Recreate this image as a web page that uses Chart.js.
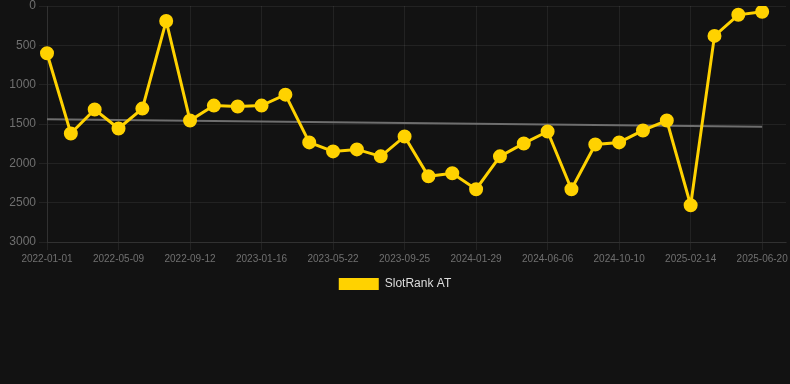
<!DOCTYPE html>
<html>
<head>
<meta charset="utf-8">
<script src="https://cdn.jsdelivr.net/npm/chart.js@4"></script>
<style>
  html, body { margin: 0; padding: 0; background: #121212; }
  #wrap { position: relative; width: 790px; height: 300px; }
</style>
</head>
<body>
<div id="wrap"><canvas id="chart"></canvas></div>
<script>
  var dates = [
    "2022-01-01", "2022-02-12", "2022-03-26", "2022-05-09", "2022-06-20", "2022-08-01",
    "2022-09-12", "2022-10-24", "2022-12-05", "2023-01-16", "2023-02-27", "2023-04-10",
    "2023-05-22", "2023-07-03", "2023-08-14", "2023-09-25", "2023-11-06", "2023-12-18",
    "2024-01-29", "2024-03-11", "2024-04-22", "2024-06-06", "2024-07-18", "2024-08-29",
    "2024-10-10", "2024-11-21", "2025-01-02", "2025-02-14", "2025-03-28", "2025-05-09",
    "2025-06-20", "2025-08-01"
  ];

  var rankValues = [
    600, 1620, 1316, 1557, 1304, 190, 1456, 1266, 1278, 1266, 1127,
    1734, 1848, 1823, 1911, 1658, 2165, 2127, 2329, 1911, 1747, 1595,
    2329, 1760, 1734, 1582, 1456, 2532, 380, 112, 74, null
  ];

  var trendStart = 1440;
  var trendEnd = 1535;

  var trendValues = dates.map(function (d, i) {
    if (i === 0) return trendStart;
    if (i === 30) return trendEnd;
    return null;
  });

  var tickColor = '#707070';
  var gridColor = 'rgba(255,255,255,0.07)';
  var fontFamily = 'Arial, "Liberation Sans", sans-serif';

  new Chart(document.getElementById('chart'), {
    type: 'line',
    data: {
      labels: dates,
      datasets: [
        {
          label: 'SlotRank AT',
          data: rankValues,
          borderColor: '#FFD200',
          backgroundColor: '#FFD200',
          borderWidth: 3,
          pointRadius: 5.5,
          pointHoverRadius: 6,
          tension: 0
        },
        {
          label: 'Trend',
          data: trendValues,
          borderColor: '#6e6e6e',
          backgroundColor: '#6e6e6e',
          borderWidth: 2,
          pointRadius: 0,
          spanGaps: true,
          tension: 0
        }
      ]
    },
    options: {
      responsive: true,
      maintainAspectRatio: false,
      animation: false,
      layout: { padding: 0, autoPadding: false },
      plugins: {
        legend: {
          position: 'bottom',
          labels: {
            color: '#dddddd',
            font: { family: fontFamily, size: 12 },
            boxWidth: 40,
            boxHeight: 12,
            filter: function (item) { return item.datasetIndex === 0; },
            generateLabels: function (chart) {
              var items = Chart.defaults.plugins.legend.labels.generateLabels(chart);
              items.forEach(function (it) { it.lineWidth = 0; });
              return items;
            }
          }
        },
        tooltip: { enabled: false }
      },
      scales: {
        x: {
          afterFit: function (scale) { scale.paddingRight = 4; },
          grid: {
            color: function (ctx) {
              return ctx.index % 3 === 0 ? gridColor : 'rgba(0,0,0,0)';
            },
            tickLength: 8
          },
          border: { color: gridColor },
          ticks: {
            color: tickColor,
            maxRotation: 0,
            autoSkip: false,
            callback: function (v, i) {
              return i % 3 === 0 ? this.getLabelForValue(v) : '';
            },
            font: { family: fontFamily, size: 10 }
          }
        },
        y: {
          reverse: true,
          min: 0,
          max: 3000,
          afterFit: function (scale) {
            scale.width = 47;
            scale.paddingTop = 6;
          },
          grid: { color: gridColor, tickLength: 8 },
          border: { color: gridColor },
          ticks: {
            stepSize: 500,
            color: tickColor,
            callback: function (v) { return String(v); },
            font: { family: fontFamily, size: 12 }
          }
        }
      }
    }
  });
</script>
</body>
</html>
